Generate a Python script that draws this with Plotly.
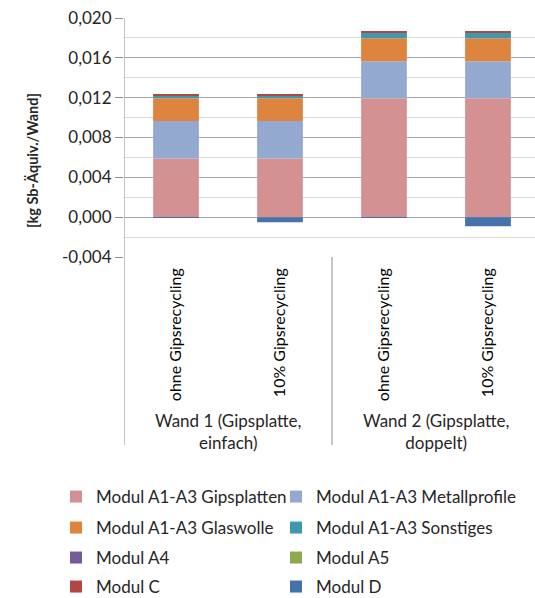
import plotly.graph_objects as go

# Wall variants (group) and gypsum-recycling scenario (sub-category)
groups = ["Wand 1 (Gipsplatte,<br>einfach)", "Wand 2 (Gipsplatte,<br>doppelt)"]
scenarios = ["ohne Gipsrecycling", "10% Gipsrecycling",
             "ohne Gipsrecycling", "10% Gipsrecycling"]
group_of_bar = [0, 0, 1, 1]

# ADP elements [kg Sb-Äquiv./Wand] per module
series_names = [
    "Modul A1-A3 Gipsplatten", "Modul A1-A3 Metallprofile",
    "Modul A1-A3 Glaswolle", "Modul A1-A3 Sonstiges",
    "Modul A4", "Modul A5", "Modul C", "Modul D",
]
gipsplatten = [0.00590, 0.00590, 0.01195, 0.01195]
metallprofile = [0.00375, 0.00375, 0.00370, 0.00370]
glaswolle = [0.00228, 0.00228, 0.00231, 0.00231]
sonstiges = [0.00030, 0.00030, 0.00056, 0.00056]
modul_a4 = [0.00001, 0.00001, 0.00001, 0.00001]
modul_a5 = [0.00001, 0.00001, 0.00001, 0.00001]
modul_c = [0.00010, 0.00010, 0.00010, 0.00010]
modul_d = [-0.00005, -0.00050, -0.00005, -0.00092]
series_values = [gipsplatten, metallprofile, glaswolle, sonstiges,
                 modul_a4, modul_a5, modul_c, modul_d]
colors = ["#d39191", "#94a9d0", "#dd843f", "#3f98ad",
          "#745b98", "#8fa94f", "#b14644", "#4572aa"]

y_ticks = [-0.004, 0.0, 0.004, 0.008, 0.012, 0.016, 0.020]
y_ticktext = [f"{v:.3f}".replace(".", ",") for v in y_ticks]

FONT = "Lato, sans-serif"
TXT = "#262626"
x_pos = list(range(len(scenarios)))

W, H = 535, 598

# One single-entry legend per item, laid out in two columns
legend_cols_px = [56, 276]
legend_rows_px = [497, 528, 558, 587]

fig = go.Figure()
legend_cfg = {}
for i, (name, vals, col) in enumerate(zip(series_names, series_values, colors)):
    lid = "legend" if i == 0 else f"legend{i + 1}"
    fig.add_trace(go.Bar(
        x=x_pos, y=vals, name=name, marker_color=col,
        marker_line_width=0, width=0.44, legend=lid,
    ))
    legend_cfg[lid] = dict(
        x=legend_cols_px[i % 2] / W, xref="container", xanchor="left",
        y=1 - legend_rows_px[i // 2] / H, yref="container", yanchor="middle",
        font=dict(family=FONT, size=17, color=TXT),
        bgcolor="rgba(0,0,0,0)", borderwidth=0,
    )

# Vertical separators of the category axis
axis_col = "#8c8c8c"
fig.add_shape(type="line", xref="x", yref="paper", x0=-0.5, x1=-0.5,
              y0=1.0, y1=-0.787, line=dict(color=axis_col, width=1))
fig.add_shape(type="line", xref="x", yref="paper", x0=1.5, x1=1.5,
              y0=0.0, y1=-0.787, line=dict(color=axis_col, width=1))

# Group labels beneath the scenario labels
for g, label in enumerate(groups):
    xs = [x for x, gb in zip(x_pos, group_of_bar) if gb == g]
    fig.add_annotation(x=sum(xs) / len(xs), xref="x", y=-0.632, yref="paper",
                       text=label, showarrow=False, yanchor="top",
                       font=dict(family=FONT, size=17, color=TXT))

# Axis title
fig.add_annotation(x=-0.25, xref="paper", y=0.405, yref="paper",
                   text="<b>[kg Sb-Äquiv./Wand]</b>", textangle=-90,
                   showarrow=False, font=dict(family=FONT, size=14.5, color=TXT))

fig.update_layout(
    width=W, height=H,
    margin=dict(l=124, r=0, t=18, b=341, autoexpand=False),
    barmode="relative",
    plot_bgcolor="white", paper_bgcolor="white",
    font=dict(family=FONT, size=14, color=TXT),
    showlegend=True,
    **legend_cfg,
)

fig.update_xaxes(
    range=[-0.5, 3.452], tickmode="array", tickvals=x_pos, ticktext=scenarios,
    tickangle=-90, showgrid=False, showline=False, zeroline=False, ticks="",
    ticklabelstandoff=7,
    tickfont=dict(family=FONT, size=16, color="#000000"),
)
fig.update_yaxes(
    range=[-0.004, 0.020], tickmode="array", tickvals=y_ticks, ticktext=y_ticktext,
    showgrid=True, gridcolor="#a6a6a6", gridwidth=1,
    zeroline=False, showline=False, ticks="outside", ticklen=8,
    tickcolor=axis_col, tickfont=dict(family=FONT, size=17, color=TXT),
    minor=dict(dtick=0.004, tick0=-0.002, showgrid=True, gridcolor="#dcdcdc",
               gridwidth=1, ticks=""),
)

fig.write_html("out.html")
